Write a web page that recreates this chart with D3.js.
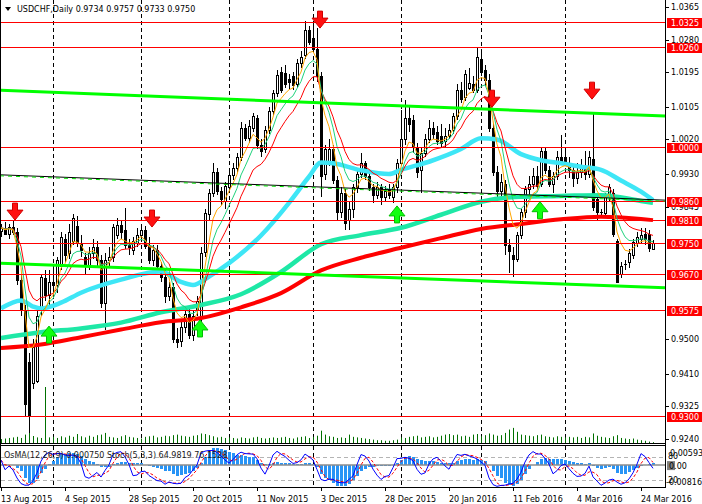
<!DOCTYPE html>
<html>
<head>
<meta charset="utf-8">
<script src="https://cdn.jsdelivr.net/npm/d3@7.9.0/dist/d3.min.js"></script>
<style>
  body { margin: 0; background: #fff; }
  svg { display: block; }
  text { font-family: "DejaVu Sans", sans-serif; font-size: 8px; }
</style>
</head>
<body>
<svg id="chart" width="702" height="504"></svg>
<script>
// USDCHF daily candles, [open, high, low, close], 13 Aug 2015 .. 29 Mar 2016
const ohlc = [
  [.9782,.9800,.9765,.9790],[.9790,.9805,.9770,.9775],[.9775,.9800,.9760,.9792],[.9792,.9810,.9772,.9780],
  [.9780,.9790,.9640,.9655],[.9655,.9670,.9560,.9576],[.9576,.9590,.9300,.9330],[.9440,.9465,.9255,.9300],
  [.9386,.9500,.9370,.9480],[.9390,.9580,.9385,.9560],[.9575,.9670,.9560,.9662],[.9660,.9680,.9600,.9615],
  [.9615,.9680,.9590,.9650],[.9650,.9690,.9605,.9640],[.9640,.9715,.9620,.9705],[.9690,.9780,.9680,.9766],
  [.9760,.9775,.9700,.9720],[.9725,.9800,.9710,.9778],[.9755,.9825,.9745,.9815],[.9795,.9820,.9740,.9750],
  [.9750,.9770,.9715,.9732],[.9715,.9725,.9670,.9690],[.9690,.9740,.9680,.9725],[.9725,.9760,.9710,.9740],
  [.9740,.9755,.9690,.9705],[.9705,.9720,.9580,.9594],[.9594,.9725,.9524,.9706],[.9706,.9740,.9690,.9715],
  [.9715,.9800,.9700,.9793],[.9770,.9815,.9760,.9797],[.9797,.9810,.9760,.9780],[.9785,.9842,.9735,.9745],
  [.9745,.9760,.9720,.9740],[.9732,.9765,.9720,.9755],[.9750,.9790,.9740,.9772],[.9772,.9800,.9755,.9785],
  [.9785,.9795,.9735,.9742],[.9745,.9765,.9695,.9705],[.9705,.9745,.9690,.9732],[.9732,.9745,.9680,.9690],
  [.9690,.9700,.9650,.9663],[.9663,.9680,.9595,.9612],[.9612,.9650,.9600,.9635],[.9635,.9645,.9490,.9500],
  [.9500,.9530,.9477,.9492],[.9495,.9545,.9480,.9532],[.9532,.9575,.9515,.9565],[.9565,.9580,.9500,.9512],
  [.9512,.9575,.9495,.9560],[.9575,.9612,.9560,.9600],[.9555,.9740,.9545,.9724],[.9728,.9840,.9715,.9828],
  [.9825,.9890,.9810,.9880],[.9880,.9960,.9870,.9935],[.9935,.9945,.9875,.9885],[.9885,.9895,.9850,.9865],
  [.9860,.9910,.9840,.9900],[.9895,.9940,.9885,.9928],[.9928,.9960,.9915,.9945],[.9945,.9985,.9935,.9975],
  [.9975,1.0065,.9965,1.0050],[1.0050,1.0060,1.0015,1.0025],[1.0025,1.0070,1.0010,1.0055],[1.0050,1.0090,1.0040,1.0080],
  [1.0075,1.0085,.9995,1.0005],[1.0005,1.0020,.9975,.9990],[.9995,1.0055,.9985,1.0045],[1.0045,1.0105,1.0035,1.0095],
  [1.0095,1.0150,1.0085,1.0140],[1.0140,1.0200,1.0130,1.0188],[1.0195,1.0210,1.0140,1.0150],[1.0192,1.0215,1.0155,1.0165],
  [1.0178,1.0190,1.0150,1.0170],[1.0185,1.0195,1.0150,1.0163],[1.0165,1.0230,1.0155,1.0220],[1.0220,1.0250,1.0205,1.0235],
  [1.0240,1.0328,1.0230,1.0305],[1.0305,1.0315,1.0265,1.0275],[1.0285,1.0325,1.0245,1.0255],[1.0255,1.0310,1.0170,1.0185],
  [1.0185,1.0195,.9870,.9925],[.9930,1.0005,.9915,.9995],[.9965,1.0020,.9950,.9995],[.9995,1.0005,.9905,.9915],
  [.9915,.9925,.9810,.9830],[.9830,.9895,.9815,.9880],[.9880,.9890,.9784,.9802],[.9810,.9860,.9785,.9840],
  [.9840,.9905,.9815,.9895],[.9895,.9945,.9880,.9930],[.9930,.9985,.9920,.9958],[.9958,.9965,.9915,.9925],
  [.9925,.9935,.9885,.9895],[.9895,.9905,.9855,.9875],[.9875,.9910,.9865,.9895],[.9895,.9905,.9849,.9870],
  [.9870,.9900,.9860,.9885],[.9890,.9905,.9865,.9875],[.9870,.9905,.9855,.9895],[.9895,.9970,.9880,.9960],
  [.9960,1.0097,.9950,1.0020],[1.0020,1.0123,1.0005,1.0075],[1.0075,1.0110,1.0040,1.0060],[1.0070,1.0085,.9985,1.0000],
  [1.0000,1.0010,.9920,.9935],[.9940,1.0000,.9880,.9985],[.9985,1.0035,.9975,1.0020],[1.0020,1.0070,1.0010,1.0050],
  [1.0050,1.0065,1.0020,1.0035],[1.0040,1.0055,1.0005,1.0015],[1.0030,1.0060,1.0000,1.0010],[1.0015,1.0050,1.0000,1.0030],
  [1.0030,1.0060,1.0020,1.0045],[1.0045,1.0090,1.0035,1.0080],[1.0080,1.0165,1.0070,1.0150],[1.0150,1.0170,1.0115,1.0125],
  [1.0130,1.0200,1.0120,1.0190],[1.0155,1.0205,1.0150,1.0168],[1.0165,1.0185,1.0140,1.0150],[1.0150,1.0257,1.0140,1.0235],
  [1.0230,1.0245,1.0185,1.0195],[1.0200,1.0215,1.0160,1.0175],[1.0175,1.0190,1.0040,1.0050],[1.0050,1.0060,.9925,.9935],
  [.9935,.9950,.9870,.9885],[.9885,.9930,.9870,.9910],[.9905,.9915,.9720,.9745],[.9745,.9760,.9672,.9730],
  [.9720,.9740,.9662,.9710],[.9710,.9780,.9700,.9770],[.9770,.9840,.9760,.9830],[.9830,.9900,.9815,.9890],
  [.9890,.9925,.9870,.9905],[.9905,.9945,.9890,.9925],[.9925,.9950,.9890,.9900],[.9905,1.0000,.9895,.9990],
  [.9990,1.0000,.9930,.9940],[.9940,.9950,.9895,.9905],[.9905,.9935,.9880,.9925],[.9925,.9990,.9915,.9975],
  [.9975,1.0032,.9955,.9965],[.9975,1.0000,.9950,.9960],[.9960,.9975,.9920,.9940],[.9940,.9950,.9895,.9920],
  [.9920,.9960,.9905,.9935],[.9935,.9970,.9920,.9945],[.9945,.9990,.9915,.9930],[.9930,.9990,.9920,.9975],
  [.9970,1.0089,.9835,.9845],[.9865,.9875,.9810,.9830],[.9830,.9840,.9815,.9832],[.9828,.9880,.9815,.9871],
  [.9875,.9905,.9860,.9895],[.9880,.9890,.9765,.9775],[.9755,.9760,.9645,.9650],[.9670,.9700,.9660,.9690],
  [.9695,.9705,.9680,.9696],[.9700,.9735,.9685,.9724],[.9720,.9760,.9710,.9754],[.9750,.9780,.9740,.9765],
  [.9760,.9790,.9750,.9770],[.9775,.9790,.9745,.9760],[.9775,.9785,.9728,.9737],[.9734,.9757,.9733,.9750]
];

// tick volume (thousands)
const volumes = [
  14,16,18,20,22,18,30,42,25,20,18,200,20,22,18,24,20,26,22,32,
  24,20,26,22,28,30,36,22,20,18,24,28,22,20,18,16,22,24,26,20,
  22,26,24,28,30,26,24,22,26,28,34,32,28,24,20,22,18,20,18,16,
  20,18,16,20,22,18,16,18,20,18,20,22,18,16,20,22,24,18,22,26,
  44,30,24,22,18,20,18,30,22,20,18,16,14,12,10,10,8,8,10,12,
  20,18,22,24,26,20,22,24,20,22,26,30,32,28,30,24,26,22,30,32,
  24,28,34,30,26,28,36,48,54,40,30,28,26,24,28,30,24,22,20,24,
  22,20,22,20,22,18,22,20,34,26,22,20,18,24,28,18,16,14,16,12,
  10,8,5,3
];

const dateTickBars = [0, 16, 32, 48, 64, 80, 96, 112, 128, 144, 160];
const dateLabels = ["13 Aug 2015", "4 Sep 2015", "28 Sep 2015", "20 Oct 2015", "11 Nov 2015",
  "3 Dec 2015", "28 Dec 2015", "20 Jan 2016", "11 Feb 2016", "4 Mar 2016", "24 Mar 2016"];
const monthStartBars = [13, 35, 57, 78, 100, 120, 141];

const priceTicks = [1.0365, 1.0280, 1.0195, 1.0105, 1.0020, 0.9930, 0.9845, 0.9500, 0.9410, 0.9325, 0.9240];
const levels = [1.0325, 1.0260, 1.0000, 0.9860, 0.9810, 0.9750, 0.9670, 0.9575, 0.9300];

// slow moving averages at knot bars
const slowBars = [0, 10, 20, 30, 40, 50, 60, 70, 80, 90, 100, 110, 120, 130, 140, 150, 160, 163];
const ma200 = [.9477, .9486, .9505, .9525, .9544, .9555, .9583, .9620, .9679, .9712, .9738, .9763, .9787, .9800, .9812, .9819, .9813, .9810];
const ma100 = [.9503, .9518, .9528, .9543, .9570, .9589, .9617, .9675, .9747, .9771, .9790, .9824, .9858, .9871, .9873, .9875, .9860, .9855];
const ma50Bars = [0, 5, 8, 10, 15, 20, 30, 40, 45, 48, 52, 57, 65, 72, 77, 80, 83, 90, 97, 100, 107, 115, 120, 124, 130, 135, 140, 145, 150, 155, 160, 163];
const ma50 = [.9580, .9601, .9585, .9580, .9595, .9621, .9655, .9676, .9649, .9641, .9663, .9698, .9770, .9855, .9923, .9960, .9958, .9940, .9930, .9941, .9962, .9995, 1.0023, 1.0020, .9982, .9966, .9958, .9949, .9941, .9913, .9884, .9862];

// trend lines [bar, price]
const trendUpper = [[-0.25, 1.0148], [166, 1.0081]];
const trendMiddle = [[-0.25, 0.9928], [166, 0.9862]];
const trendLower = [[-0.25, 0.9698], [166, 0.9634]];

// signal arrows [bar, price of tip]
const sellArrows = [[3.5, 0.9810], [37.75, 0.9792], [79.75, 1.0310], [122.75, 1.0104], [147.75, 1.0125]];
const buyArrows = [[12, 0.9534], [49.75, 0.9550], [99, 0.9847], [134.75, 0.9858]];

const osmaMax = 0.00593, osmaMin = -0.00816;

// ---- layout
const svg = d3.select("#chart");
const plotRight = 665, mainBottom = 443, indTop = 446, indBottom = 487;

svg.append("rect").attr("width", 702).attr("height", 504).attr("fill", "#fff");

const x = d3.scaleLinear().domain([0, ohlc.length - 1]).range([1, 653]);
const y = d3.scaleLinear().domain([0.9240, 1.0365]).range([439, 7]);
const vh = d3.scaleLinear().domain([0, 200]).range([0, 56]);
const yOsma = d3.scaleLinear().domain([osmaMin, osmaMax]).range([490, 447]);
const yStoch = d3.scaleLinear().domain([0, 100]).range([487.8, 449]);
const px = i => Math.round(x(i));

const defs = svg.append("defs");
defs.append("clipPath").attr("id", "clipMain")
  .append("rect").attr("x", 1).attr("y", 0).attr("width", plotRight - 1).attr("height", mainBottom);
defs.append("clipPath").attr("id", "clipInd")
  .append("rect").attr("x", 1).attr("y", indTop).attr("width", plotRight - 1).attr("height", indBottom - indTop);

const main = svg.append("g").attr("clip-path", "url(#clipMain)");
const ind = svg.append("g").attr("clip-path", "url(#clipInd)");

// month separators
[[main, 0, mainBottom], [ind, indTop, indBottom]].forEach(([g, y0, y1]) => {
  g.selectAll(null).data(monthStartBars).enter().append("line")
    .attr("x1", d => px(d) + 0.5).attr("x2", d => px(d) + 0.5)
    .attr("y1", y0).attr("y2", y1)
    .attr("stroke", "#000").attr("stroke-dasharray", "4,3");
});

// volumes
main.selectAll(".vol").data(volumes).enter().append("line")
  .attr("class", "vol")
  .attr("x1", (d, i) => px(i) + 0.5).attr("x2", (d, i) => px(i) + 0.5)
  .attr("y1", mainBottom).attr("y2", d => mainBottom - vh(d))
  .attr("stroke", "#007000").attr("stroke-width", 1);

// candles
const cg = main.append("g").attr("shape-rendering", "crispEdges");
cg.selectAll(".wick").data(ohlc).enter().append("line")
  .attr("x1", (d, i) => px(i) + 0.5).attr("x2", (d, i) => px(i) + 0.5)
  .attr("y1", d => y(d[1])).attr("y2", d => y(d[2]))
  .attr("stroke", "#000");
cg.selectAll(".body").data(ohlc).enter().append("rect")
  .attr("x", (d, i) => px(i) - 0.5)
  .attr("width", 2)
  .attr("y", d => Math.round(y(Math.max(d[0], d[3]))) + 0.5)
  .attr("height", d => Math.max(0.01, Math.round(y(Math.min(d[0], d[3]))) - Math.round(y(Math.max(d[0], d[3])))))
  .attr("fill", d => d[3] >= d[0] ? "#fff" : "#000")
  .attr("stroke", "#000");

// fast EMAs from closes
const closes = ohlc.map(d => d[3]);
function ema(arr, n) {
  const k = 2 / (n + 1);
  const out = [arr[0]];
  for (let i = 1; i < arr.length; i++) out.push(out[i - 1] + k * (arr[i] - out[i - 1]));
  return out;
}
function sma(arr, n) {
  return arr.map((v, i) => d3.mean(arr.slice(Math.max(0, i - n + 1), i + 1)));
}

const seriesLine = d3.line().x((d, i) => x(i)).y(d => y(d));
const knotLine = bars => d3.line().x((d, i) => x(bars[i])).y(d => y(d)).curve(d3.curveMonotoneX);

main.append("path").datum(ma200).attr("d", knotLine(slowBars))
  .attr("fill", "none").attr("stroke", "#ff0000").attr("stroke-width", 4);
main.append("path").datum(ma100).attr("d", knotLine(slowBars))
  .attr("fill", "none").attr("stroke", "#1ee8a6").attr("stroke-width", 4.5);
main.append("path").datum(ma50).attr("d", knotLine(ma50Bars))
  .attr("fill", "none").attr("stroke", "#3ee6f6").attr("stroke-width", 4.5);

[[13, "#ff0000"], [8, "#1fd27c"], [5, "#ffa500"]].forEach(([n, c]) => {
  main.append("path").datum(ema(closes, n)).attr("d", seriesLine)
    .attr("fill", "none").attr("stroke", c).attr("stroke-width", 1);
});

// horizontal levels
main.selectAll(".lvl").data(levels).enter().append("line")
  .attr("x1", 1).attr("x2", plotRight)
  .attr("y1", d => Math.round(y(d)) + 0.5).attr("y2", d => Math.round(y(d)) + 0.5)
  .attr("stroke", "#ff0000");

// trend lines
const tl = d3.line().x(d => x(d[0])).y(d => y(d[1]));
main.append("path").datum(trendUpper).attr("d", tl).attr("stroke", "#00ff00").attr("stroke-width", 3).attr("fill", "none");
main.append("path").datum(trendLower).attr("d", tl).attr("stroke", "#00ff00").attr("stroke-width", 3).attr("fill", "none");
main.append("path").datum(trendMiddle).attr("d", tl).attr("stroke", "#000").attr("stroke-width", 1).attr("fill", "none");
main.append("path").datum(trendMiddle).attr("d", tl).attr("transform", "translate(0,1)")
  .attr("stroke", "#00e000").attr("stroke-width", 1).attr("stroke-dasharray", "4,4").attr("fill", "none");

// arrows
function arrowPath(cx, t, dir) {
  const s = dir; // 1 = pointing down, -1 = pointing up
  return `M${cx - 2.5},${t - 17 * s}L${cx + 2.5},${t - 17 * s}L${cx + 2.5},${t - 10 * s}` +
         `L${cx + 8},${t - 10 * s}L${cx},${t}L${cx - 8},${t - 10 * s}L${cx - 2.5},${t - 10 * s}Z`;
}
main.selectAll(".sell").data(sellArrows).enter().append("path")
  .attr("d", d => arrowPath(x(d[0]), y(d[1]), 1))
  .attr("fill", "#ff1010").attr("stroke", "#d00000").attr("stroke-width", 1);
main.selectAll(".buy").data(buyArrows).enter().append("path")
  .attr("d", d => arrowPath(x(d[0]), y(d[1]), -1))
  .attr("fill", "#10ff10").attr("stroke", "#00c000").attr("stroke-width", 1);

// ---- indicator window: OsMA(12,26,9) + Stoch(5,3,3)
const macd = ema(closes, 12).map((v, i) => v - ema(closes, 26)[i]);
const signal = sma(macd, 9);
const osma = macd.map((v, i) => v - signal[i]);

const highs = ohlc.map(d => d[1]), lows = ohlc.map(d => d[2]);
const hh = highs.map((v, i) => d3.max(highs.slice(Math.max(0, i - 4), i + 1)));
const ll = lows.map((v, i) => d3.min(lows.slice(Math.max(0, i - 4), i + 1)));
const stochK = closes.map((c, i) => {
  const from = Math.max(0, i - 2);
  let num = 0, den = 0;
  for (let j = from; j <= i; j++) { num += closes[j] - ll[j]; den += hh[j] - ll[j]; }
  return den === 0 ? 50 : 100 * num / den;
});
const stochD = sma(stochK, 3);

ind.selectAll(".lev").data([80, 20]).enter().append("line")
  .attr("x1", 1).attr("x2", plotRight)
  .attr("y1", d => Math.round(yStoch(d)) + 0.5).attr("y2", d => Math.round(yStoch(d)) + 0.5)
  .attr("stroke", "#b4b4b4").attr("stroke-dasharray", "4,3");

ind.append("g").attr("shape-rendering", "crispEdges")
  .selectAll("rect").data(osma).enter().append("rect")
  .attr("x", (d, i) => px(i) - 1).attr("width", 3)
  .attr("y", d => Math.min(yOsma(0), yOsma(d)))
  .attr("height", d => Math.abs(yOsma(d) - yOsma(0)))
  .attr("fill", "#2894f6");

ind.append("line").attr("x1", 1).attr("x2", plotRight)
  .attr("y1", yOsma(0)).attr("y2", yOsma(0))
  .attr("stroke", "#8c8c8c").attr("stroke-width", 1.5);

const stLine = d3.line().x((d, i) => x(i)).y(d => yStoch(d));
ind.append("path").datum(stochD).attr("d", stLine)
  .attr("fill", "none").attr("stroke", "#ff0000").attr("stroke-dasharray", "3,2");
ind.append("path").datum(stochK).attr("d", stLine)
  .attr("fill", "none").attr("stroke", "#0000ff");

svg.append("text").attr("x", 4).attr("y", 458).attr("fill", "#1a1a1a")
  .text("OsMA(12,26,9) 0.000750  Stoch(5,3,3) 64.9819 76.1528");

// ---- frame
const frame = svg.append("g").attr("stroke", "#000").attr("shape-rendering", "crispEdges");
frame.append("line").attr("x1", 0.5).attr("x2", 0.5).attr("y1", 0).attr("y2", indBottom + 0.5);
frame.append("line").attr("x1", plotRight + 0.5).attr("x2", plotRight + 0.5).attr("y1", 0).attr("y2", indBottom + 0.5);
frame.append("line").attr("x1", 0).attr("x2", plotRight).attr("y1", mainBottom + 0.5).attr("y2", mainBottom + 0.5);
frame.append("line").attr("x1", 0).attr("x2", plotRight).attr("y1", indTop - 0.5).attr("y2", indTop - 0.5);
frame.append("line").attr("x1", 0).attr("x2", plotRight).attr("y1", indBottom + 0.5).attr("y2", indBottom + 0.5);

// price axis
const axisG = svg.append("g");
axisG.selectAll(".tick").data(priceTicks).enter().append("line")
  .attr("x1", plotRight).attr("x2", plotRight + 4)
  .attr("y1", d => Math.round(y(d)) + 0.5).attr("y2", d => Math.round(y(d)) + 0.5)
  .attr("stroke", "#000");
axisG.selectAll(".tl").data(priceTicks).enter().append("text")
  .attr("x", 671).attr("y", d => y(d) + 3).attr("fill", "#000")
  .text(d => d.toFixed(4));

const lvlG = svg.append("g");
lvlG.selectAll("rect").data(levels).enter().append("rect")
  .attr("x", 667).attr("y", d => Math.round(y(d)) - 4).attr("width", 36).attr("height", 10)
  .attr("fill", "#ff0000");
lvlG.selectAll("text").data(levels).enter().append("text")
  .attr("x", 671).attr("y", d => Math.round(y(d)) + 3.5).attr("fill", "#fff")
  .text(d => d.toFixed(4));

// indicator axis labels
svg.append("text").attr("x", 670).attr("y", yOsma(osmaMax) + 9).text(osmaMax.toFixed(5));
svg.append("text").attr("x", 668).attr("y", yStoch(80) + 2).text("80");
svg.append("rect").attr("x", 667).attr("y", yOsma(0) - 4).attr("width", 8).attr("height", 9).attr("fill", "#808080");
svg.append("text").attr("x", 669).attr("y", yOsma(0) + 3.5).text("0.00");
svg.append("text").attr("x", 668).attr("y", yStoch(20) + 3).text("20");
svg.append("text").attr("x", 666).attr("y", yOsma(osmaMin) - 5).text(osmaMin.toFixed(5));

// time axis
svg.selectAll(".dt").data(dateTickBars).enter().append("line")
  .attr("x1", d => px(d) + 0.5).attr("x2", d => px(d) + 0.5)
  .attr("y1", indBottom).attr("y2", indBottom + 4)
  .attr("stroke", "#000");
svg.selectAll(".dl").data(dateTickBars).enter().append("text")
  .attr("x", d => px(d)).attr("y", 502).attr("fill", "#000")
  .text((d, i) => dateLabels[i]);

// header
svg.append("path").attr("d", "M5,7L11,7L8,11Z").attr("fill", "#000");
const last = ohlc[ohlc.length - 1];
svg.append("text").attr("x", 17).attr("y", 12).attr("fill", "#000")
  .text(`USDCHF,Daily  ${last.map(v => v.toFixed(4)).join(" ")}`);
</script>
</body>
</html>
